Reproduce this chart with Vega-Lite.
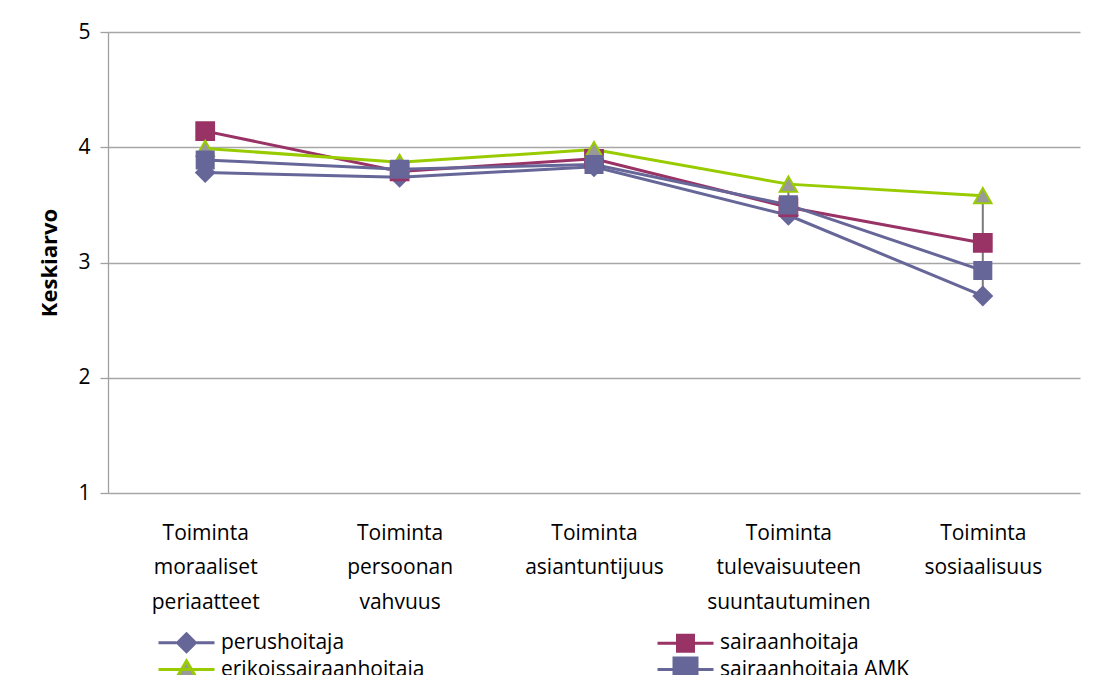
{
  "$schema": "https://vega.github.io/schema/vega-lite/v6.json",
  "width": 972,
  "height": 461,
  "autosize": {"type": "none"},
  "padding": {"left": 108, "top": 32, "right": 20, "bottom": 182},
  "background": "white",
  "config": {
    "view": {"stroke": null},
    "font": "Open Sans",
    "axis": {"labelFont": "Open Sans", "titleFont": "Open Sans", "labelColor": "black", "titleColor": "black"},
    "axisX": {
      "domain": false,
      "ticks": false,
      "grid": false,
      "labelAngle": 0,
      "labelFontSize": 21,
      "labelLineHeight": 34.5,
      "labelPadding": 29,
      "labelLimit": 0
    },
    "axisY": {
      "labelFontSize": 21,
      "labelPadding": 10,
      "tickSize": 8,
      "tickColor": "#a0a0a0",
      "tickWidth": 1.3,
      "domainColor": "#a0a0a0",
      "domainWidth": 1.3,
      "gridColor": "#a6a6a6",
      "gridWidth": 1.3,
      "titleFontSize": 22,
      "titleFontWeight": "bold",
      "titlePadding": 16
    },
    "legend": {
      "orient": "none",
      "direction": "horizontal",
      "legendX": 67,
      "legendY": 599,
      "columns": 2,
      "columnPadding": 226,
      "rowPadding": -8,
      "padding": 0,
      "labelFont": "Open Sans",
      "labelFontSize": 21,
      "labelColor": "black",
      "labelOffset": 23,
      "labelLimit": 0,
      "symbolSize": 400,
      "symbolStrokeWidth": 3
    }
  },
  "datasets": {
    "keskiarvot": [
      {"kategoria": "Toiminta moraaliset periaatteet", "sarja": "perushoitaja", "arvo": 3.78},
      {"kategoria": "Toiminta persoonan vahvuus", "sarja": "perushoitaja", "arvo": 3.74},
      {"kategoria": "Toiminta asiantuntijuus", "sarja": "perushoitaja", "arvo": 3.83},
      {"kategoria": "Toiminta tulevaisuuteen suuntautuminen", "sarja": "perushoitaja", "arvo": 3.41},
      {"kategoria": "Toiminta sosiaalisuus", "sarja": "perushoitaja", "arvo": 2.71},
      {"kategoria": "Toiminta moraaliset periaatteet", "sarja": "sairaanhoitaja", "arvo": 4.14},
      {"kategoria": "Toiminta persoonan vahvuus", "sarja": "sairaanhoitaja", "arvo": 3.79},
      {"kategoria": "Toiminta asiantuntijuus", "sarja": "sairaanhoitaja", "arvo": 3.9},
      {"kategoria": "Toiminta tulevaisuuteen suuntautuminen", "sarja": "sairaanhoitaja", "arvo": 3.48},
      {"kategoria": "Toiminta sosiaalisuus", "sarja": "sairaanhoitaja", "arvo": 3.17},
      {"kategoria": "Toiminta moraaliset periaatteet", "sarja": "erikoissairaanhoitaja", "arvo": 3.99},
      {"kategoria": "Toiminta persoonan vahvuus", "sarja": "erikoissairaanhoitaja", "arvo": 3.87},
      {"kategoria": "Toiminta asiantuntijuus", "sarja": "erikoissairaanhoitaja", "arvo": 3.98},
      {"kategoria": "Toiminta tulevaisuuteen suuntautuminen", "sarja": "erikoissairaanhoitaja", "arvo": 3.68},
      {"kategoria": "Toiminta sosiaalisuus", "sarja": "erikoissairaanhoitaja", "arvo": 3.58},
      {"kategoria": "Toiminta moraaliset periaatteet", "sarja": "sairaanhoitaja AMK", "arvo": 3.89},
      {"kategoria": "Toiminta persoonan vahvuus", "sarja": "sairaanhoitaja AMK", "arvo": 3.81},
      {"kategoria": "Toiminta asiantuntijuus", "sarja": "sairaanhoitaja AMK", "arvo": 3.85},
      {"kategoria": "Toiminta tulevaisuuteen suuntautuminen", "sarja": "sairaanhoitaja AMK", "arvo": 3.5},
      {"kategoria": "Toiminta sosiaalisuus", "sarja": "sairaanhoitaja AMK", "arvo": 2.93}
    ]
  },
  "data": {"name": "keskiarvot"},
  "encoding": {
    "x": {
      "field": "kategoria",
      "type": "nominal",
      "sort": null,
      "scale": {"type": "point", "padding": 0.5},
      "axis": {"title": null, "labelExpr": "split(datum.label, ' ')"}
    }
  },
  "layer": [
    {
      "transform": [
        {"aggregate": [{"op": "min", "field": "arvo", "as": "ala"}, {"op": "max", "field": "arvo", "as": "yla"}], "groupby": ["kategoria"]}
      ],
      "mark": {"type": "rule", "color": "#7a7a7a", "strokeWidth": 2},
      "encoding": {
        "y": {
          "field": "ala",
          "type": "quantitative",
          "scale": {"domain": [1, 5], "nice": false, "zero": false},
          "axis": {"title": "Keskiarvo", "values": [1, 2, 3, 4, 5], "format": "d"}
        },
        "y2": {"field": "yla"}
      }
    },
    {
      "mark": {"type": "line", "strokeWidth": 3},
      "encoding": {
        "y": {"field": "arvo", "type": "quantitative"},
        "color": {
          "field": "sarja",
          "type": "nominal",
          "scale": {
            "domain": ["perushoitaja", "sairaanhoitaja", "erikoissairaanhoitaja", "sairaanhoitaja AMK"],
            "range": ["#666699", "#993366", "#99cc00", "#666699"]
          },
          "legend": null
        }
      }
    },
    {
      "mark": {"type": "point", "filled": true, "strokeWidth": 2, "opacity": 1},
      "encoding": {
        "y": {"field": "arvo", "type": "quantitative"},
        "shape": {
          "field": "sarja",
          "type": "nominal",
          "scale": {
            "domain": ["perushoitaja", "sairaanhoitaja", "erikoissairaanhoitaja", "sairaanhoitaja AMK"],
            "range": ["diamond", "square", "triangle-up", "square"]
          },
          "legend": null
        },
        "size": {
          "field": "sarja",
          "type": "nominal",
          "scale": {
            "domain": ["perushoitaja", "sairaanhoitaja", "erikoissairaanhoitaja", "sairaanhoitaja AMK"],
            "range": [330, 290, 400, 580]
          },
          "legend": null
        },
        "fill": {
          "field": "sarja",
          "type": "nominal",
          "scale": {
            "domain": ["perushoitaja", "sairaanhoitaja", "erikoissairaanhoitaja", "sairaanhoitaja AMK"],
            "range": ["#666699", "#993366", "#999999", "#666699"]
          },
          "legend": null
        },
        "stroke": {
          "field": "sarja",
          "type": "nominal",
          "scale": {
            "domain": ["perushoitaja", "sairaanhoitaja", "erikoissairaanhoitaja", "sairaanhoitaja AMK"],
            "range": ["#666699", "#993366", "#99cc00", "#666699"]
          },
          "legend": null
        }
      }
    },
    {
      "transform": [{"filter": "false"}],
      "mark": {"type": "point", "filled": true, "strokeWidth": 3, "size": 400, "opacity": 1},
      "encoding": {
        "y": {"field": "arvo", "type": "quantitative"},
        "shape": {
          "field": "sarja",
          "type": "nominal",
          "scale": {
            "domain": ["perushoitaja", "sairaanhoitaja", "erikoissairaanhoitaja", "sairaanhoitaja AMK"],
            "range": [
              "M-2.8,0H-1M1,0H2.8M-0.9,0L0,-0.9L0.9,0L0,0.9Z",
              "M-2.8,0H-0.8M0.8,0H2.8M-0.8,-0.8H0.8V0.8H-0.8Z",
              "M-2.8,0H2.8M0,-0.85L-0.95,0.75L0.95,0.75Z",
              "M-2.8,0H-1.15M1.15,0H2.8M-1.15,-1.15H1.15V1.15H-1.15Z"
            ]
          },
          "legend": {"title": null}
        },
        "fill": {
          "field": "sarja",
          "type": "nominal",
          "scale": {
            "domain": ["perushoitaja", "sairaanhoitaja", "erikoissairaanhoitaja", "sairaanhoitaja AMK"],
            "range": ["#666699", "#993366", "#999999", "#666699"]
          },
          "legend": {"title": null}
        },
        "stroke": {
          "field": "sarja",
          "type": "nominal",
          "scale": {
            "domain": ["perushoitaja", "sairaanhoitaja", "erikoissairaanhoitaja", "sairaanhoitaja AMK"],
            "range": ["#666699", "#993366", "#99cc00", "#666699"]
          },
          "legend": {"title": null}
        }
      }
    }
  ],
  "resolve": {
    "scale": {"shape": "independent", "fill": "independent", "stroke": "independent"},
    "legend": {"shape": "independent", "fill": "independent", "stroke": "independent"}
  }
}
